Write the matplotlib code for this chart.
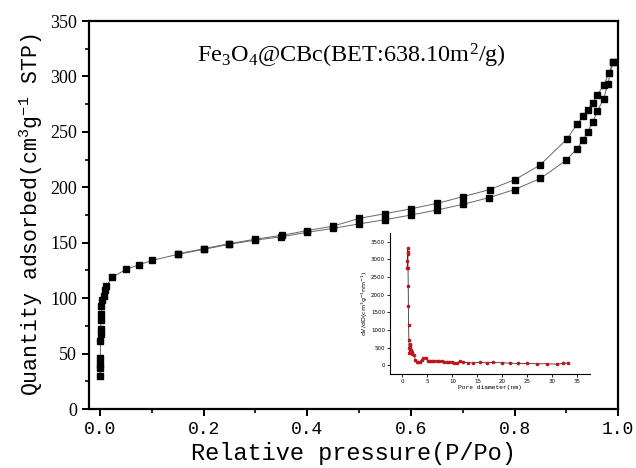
import matplotlib.pyplot as plt
from matplotlib.ticker import MultipleLocator

plt.rcParams['mathtext.default'] = 'regular'

# isotherm - adsorption branch
p_ads = [0.0002, 0.0004, 0.0006, 0.0008, 0.001, 0.0013, 0.0016, 0.002, 0.0025, 0.003,
         0.004, 0.007, 0.009, 0.012, 0.024, 0.05, 0.075, 0.1, 0.15, 0.2, 0.25, 0.3,
         0.35, 0.4, 0.45, 0.5, 0.55, 0.6, 0.65, 0.7, 0.75, 0.8, 0.85, 0.9, 0.92,
         0.932, 0.941, 0.951, 0.96, 0.972, 0.98, 0.99]
q_ads = [30, 37, 41, 46, 61, 68, 72, 80, 86, 93,
         98, 102, 107, 111, 118.8, 126, 130, 134, 139.5, 144, 148.6, 152.4,
         155.4, 159.4, 163, 167, 170.8, 175, 179.5, 184.6, 190.6, 198, 208, 224.6, 234.5,
         242.6, 250, 259, 269, 280, 293.5, 313]

# isotherm - desorption branch
p_des = [0.99, 0.982, 0.972, 0.959, 0.951, 0.941, 0.932, 0.921, 0.901, 0.849, 0.801,
         0.752, 0.7, 0.651, 0.601, 0.55, 0.5, 0.45, 0.4, 0.351, 0.3, 0.25, 0.2, 0.15]
q_des = [313, 303, 292, 283, 276, 270, 264, 257, 243.5, 220, 207,
         198, 191.5, 185.6, 180.7, 176.2, 172, 165, 161, 156.7, 153.2, 149.3, 144.6, 140]

# pore size distribution (inset)
d_pore = [0.95, 1.0, 1.03, 1.07, 1.1, 1.13, 1.17, 1.2, 1.25, 1.3, 1.35, 1.4, 1.45, 1.5,
          1.6, 1.7, 1.85, 2.0, 2.33, 2.6, 2.87, 3.2, 3.5, 3.85, 4.2, 4.67, 5.07, 5.5,
          5.9, 6.4, 6.9, 7.4, 7.9, 8.4, 8.9, 9.4, 9.9, 10.4, 10.9, 11.5, 12.2, 13.2,
          14.2, 15.5, 16.9, 18.2, 19.9, 21.5, 23.2, 24.9, 26.9, 28.9, 30.9, 32.2, 33.2]
dv_dd = [2770, 2960, 3200, 3340, 3150, 2770, 2240, 1670, 1145, 715, 477, 334, 590, 525,
         560, 430, 380, 330, 286, 150, 95, 80, 95, 150, 190, 210, 124, 118,
         115, 110, 105, 108, 115, 95, 76, 80, 86, 70, 48, 124, 86, 67,
         67, 76, 67, 76, 67, 57, 48, 48, 38, 38, 29, 48, 67]

fig = plt.figure(figsize=(6.36, 4.68), dpi=100)
ax = fig.add_axes([0.140, 0.126, 0.832, 0.829])

ax.plot(p_ads, q_ads, color='#666666', lw=0.7, marker='s', ms=4, mfc='black', mec='black')
ax.plot(p_des, q_des, color='#666666', lw=0.7, marker='s', ms=4, mfc='black', mec='black')

ax.set_xlim(-0.021, 1.0)
ax.set_ylim(0, 350)
ax.xaxis.set_major_locator(MultipleLocator(0.2))
ax.xaxis.set_minor_locator(MultipleLocator(0.1))
ax.yaxis.set_major_locator(MultipleLocator(50))
ax.yaxis.set_minor_locator(MultipleLocator(25))
for s in ax.spines.values():
    s.set_linewidth(1.6)
ax.tick_params(which='major', direction='out', length=5, width=1.4)
ax.tick_params(which='minor', direction='out', length=3, width=1.2)
for lab in ax.get_xticklabels():
    lab.set_fontfamily('Liberation Mono')
    lab.set_fontsize(13)
for lab in ax.get_yticklabels():
    lab.set_fontfamily('Liberation Serif')
    lab.set_fontsize(13)

ax.set_xlabel('Relative pressure(P/Po)', family='Liberation Mono', fontsize=17, labelpad=3)
ax.set_ylabel('Quantity adsorbed(cm$^3$g$^{-1}$ STP)', family='Liberation Mono', fontsize=15.5, labelpad=4)

ax.text(0.495, 0.91, 'Fe$_3$O$_4$@CBc(BET:638.10m$^2$/g)', transform=ax.transAxes,
        ha='center', va='center', family='Liberation Serif', fontsize=17.5)

# inset: pore size distribution
ins = fig.add_axes([0.613, 0.201, 0.3145, 0.301])
ins.plot(d_pore, dv_dd, color='#333333', lw=0.6, marker='o', ms=1.6, mfc='#c0141c', mec='#c0141c')
ins.set_xlim(-2.5, 37.5)
ins.set_ylim(-250, 3750)
ins.xaxis.set_major_locator(MultipleLocator(5))
ins.set_yticks(range(0, 3501, 500))
ins.spines['top'].set_visible(False)
ins.spines['right'].set_visible(False)
for s in ['left', 'bottom']:
    ins.spines[s].set_linewidth(0.8)
ins.tick_params(direction='out', length=2, width=0.6, labelsize=4, pad=1.5)
ins.set_xlabel('Pore diameter(nm)', family='Liberation Mono', fontsize=4.5, labelpad=1)
ins.set_ylabel('dV/dD(cm$^3$g$^{-1}$nm$^{-1}$)', fontsize=4.5, labelpad=1)
ins.patch.set_alpha(0)

fig.savefig('out.png', dpi=100)
